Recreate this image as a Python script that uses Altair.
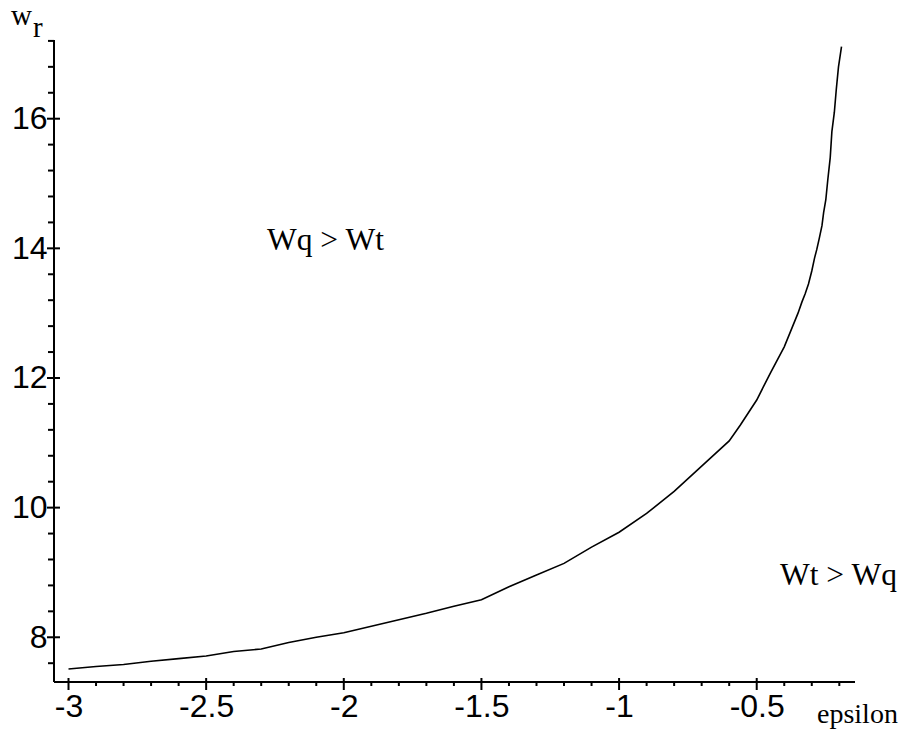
import altair as alt
import pandas as pd

# curve values
eps = [-3.0, -2.9, -2.8, -2.7, -2.6, -2.5, -2.4, -2.3, -2.2, -2.1, -2.0,
       -1.9, -1.8, -1.7, -1.6, -1.5, -1.4, -1.3, -1.2, -1.1, -1.0,
       -0.9, -0.8, -0.7, -0.6, -0.56, -0.5, -0.45, -0.4, -0.35,
       -0.336, -0.324, -0.312, -0.30, -0.29, -0.282, -0.273, -0.263,
       -0.257, -0.249, -0.242, -0.233, -0.227, -0.218, -0.211, -0.203, -0.192]
wr = [7.51, 7.55, 7.58, 7.63, 7.67, 7.71, 7.78, 7.82, 7.92, 8.00, 8.07,
      8.17, 8.27, 8.37, 8.48, 8.58, 8.78, 8.96, 9.14, 9.39, 9.62,
      9.91, 10.25, 10.64, 11.03, 11.27, 11.66, 12.08, 12.48, 13.0,
      13.17, 13.3, 13.45, 13.65, 13.85, 13.98, 14.15, 14.35,
      14.55, 14.75, 15.05, 15.4, 15.8, 16.1, 16.45, 16.8, 17.11]

x_major = [-3, -2.5, -2, -1.5, -1, -0.5]
x_minor = [-2.9, -2.8, -2.7, -2.6, -2.4, -2.3, -2.2, -2.1, -1.9, -1.8, -1.7,
           -1.6, -1.4, -1.3, -1.2, -1.1, -0.9, -0.8, -0.7, -0.6, -0.4, -0.3, -0.2]
y_major = [8, 10, 12, 14, 16]
y_minor = [7.6, 8.4, 8.8, 9.2, 9.6, 10.4, 10.8, 11.2, 11.6, 12.4, 12.8, 13.2,
           13.6, 14.4, 14.8, 15.2, 15.6, 16.4, 16.8, 17.2]

ann_text = ["Wq > Wt", "Wt > Wq"]
ann_x = [-2.279, -0.4155]
ann_y = [13.975, 8.807]

W, H = 801, 642
xs = alt.Scale(domain=[-3.0527, -0.143], nice=False, zero=False)
ys = alt.Scale(domain=[7.310, 17.214], nice=False, zero=False)

xaxis = alt.Axis(values=x_major, domain=False, ticks=False, tickSize=0, grid=False,
                 title=None, labelFont="Liberation Sans", labelFontSize=32,
                 labelColor="black", labelPadding=9, labelFlush=False,
                 labelOverlap=False, labelExpr="toString(datum.value)")
yaxis = alt.Axis(values=y_major, domain=False, ticks=False, tickSize=0, grid=False,
                 title=None, labelFont="Liberation Sans", labelFontSize=32,
                 labelColor="black", labelPadding=7, labelOverlap=False,
                 labelExpr="toString(datum.value)")

curve_df = pd.DataFrame({"eps": eps, "wr": wr})
curve = alt.Chart(curve_df).mark_line(color="black", strokeWidth=1.6).encode(
    x=alt.X("eps:Q", scale=xs, axis=xaxis),
    y=alt.Y("wr:Q", scale=ys, axis=yaxis),
)

# axis lines
xline = alt.Chart(pd.DataFrame({"a": [0]})).mark_rule(color="black", strokeWidth=2).encode(
    x=alt.value(0), x2=alt.value(W), y=alt.value(H))
yline = alt.Chart(pd.DataFrame({"a": [0]})).mark_rule(color="black", strokeWidth=2).encode(
    x=alt.value(0), y=alt.value(0), y2=alt.value(H))

xmin_t = alt.Chart(pd.DataFrame({"eps": x_minor})).mark_rule(color="black", strokeWidth=2).encode(
    x=alt.X("eps:Q", scale=xs, axis=xaxis), y=alt.value(H), y2=alt.value(H + 4))
xmaj_t = alt.Chart(pd.DataFrame({"eps": x_major})).mark_rule(color="black", strokeWidth=2).encode(
    x=alt.X("eps:Q", scale=xs, axis=xaxis), y=alt.value(H - 4), y2=alt.value(H + 8))
ymin_t = alt.Chart(pd.DataFrame({"wr": y_minor})).mark_rule(color="black", strokeWidth=2).encode(
    y=alt.Y("wr:Q", scale=ys, axis=yaxis), x=alt.value(-6), x2=alt.value(0))
ymaj_t = alt.Chart(pd.DataFrame({"wr": y_major})).mark_rule(color="black", strokeWidth=2).encode(
    y=alt.Y("wr:Q", scale=ys, axis=yaxis), x=alt.value(-7), x2=alt.value(6))

ann = alt.Chart(pd.DataFrame({"t": ann_text, "eps": ann_x, "wr": ann_y})).mark_text(
    font="Liberation Serif", fontSize=31.5, align="left", baseline="alphabetic", color="black"
).encode(
    x=alt.X("eps:Q", scale=xs, axis=xaxis),
    y=alt.Y("wr:Q", scale=ys, axis=yaxis),
    text="t:N",
)

lab_w = alt.Chart(pd.DataFrame({"t": ["w"]})).mark_text(
    font="Liberation Serif", fontSize=29, align="left", baseline="alphabetic", color="black"
).encode(x=alt.value(-43), y=alt.value(-15), text="t:N")
lab_r = alt.Chart(pd.DataFrame({"t": ["r"]})).mark_text(
    font="Liberation Serif", fontSize=29, align="left", baseline="alphabetic", color="black"
).encode(x=alt.value(-21), y=alt.value(-3), text="t:N")
lab_eps = alt.Chart(pd.DataFrame({"t": ["epsilon"]})).mark_text(
    font="Liberation Serif", fontSize=28, align="left", baseline="alphabetic", color="black"
).encode(x=alt.value(763), y=alt.value(683), text="t:N")

chart = alt.layer(
    curve, xline, yline, xmin_t, xmaj_t, ymin_t, ymaj_t, ann, lab_w, lab_r, lab_eps
).properties(
    width=W, height=H,
    autosize=alt.AutoSizeParams(type="none"),
    padding={"left": 46, "top": 32, "right": 45, "bottom": 48},
    background="white",
).configure_view(stroke=None)

chart.save("out.html", embed_options={"renderer": "svg", "actions": False})
